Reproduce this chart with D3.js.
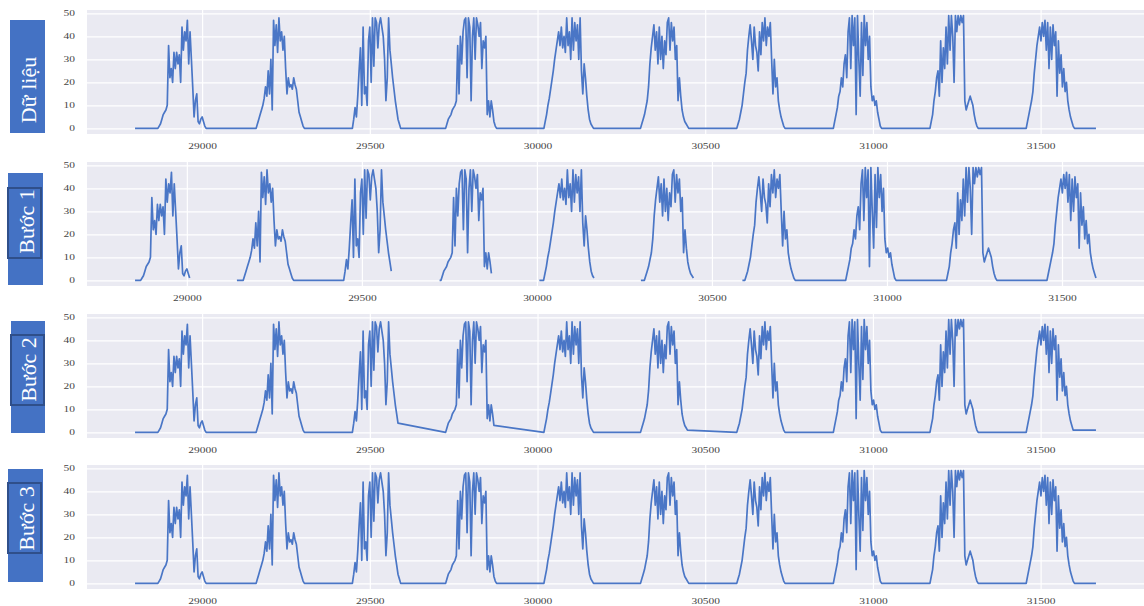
<!DOCTYPE html>
<html>
<head>
<meta charset="utf-8">
<title>Dữ liệu / Bước 1-3</title>
<script src="https://cdn.jsdelivr.net/npm/d3@7/dist/d3.min.js"></script>
<style>
  body { margin: 0; background: #fff; }
  .tick text { font-family: "Liberation Serif", "Times New Roman", serif; }
</style>
</head>
<body>
<script>

// ---- data ----
var panelLabels = ["Dữ liệu", "Bước 1", "Bước 2", "Bước 3"];
var xTicks = [29000, 29500, 30000, 30500, 31000, 31500];
var yTicks = [0, 10, 20, 30, 40, 50];

var seriesStart = 28800;   // first sample (night, 0)
var seriesEnd = 31665;     // last sample (night, 0)
var sampleStep = 4;        // spacing of the values below

// start of each daylight run
var dayStart = [28868, 29161, 29448, 29726, 30019, 30307, 30594, 30882, 31170, 31457];

// daylight values, one array per day
var dayProfiles = [
  [0,1,2,4,6,7,8,10,36,22,26,20,33,26,33,28,32,20,44,34,42,38,47,28,42,30,18,5,12,15,3,2,4,5,3,1,0],
  [0,2,4,6,8,10,13,18,14,25,15,30,8,47,36,45,33,48,38,42,34,40,26,15,22,18,19,17,22,19,17,12,7,5,3,1,0],
  [0,4,9,5,14,25,35,10,44,15,18,10,38,44,20,48,27,48,46,35,45,48,44,40,30,12,22,48,34,28,22,17,12,8,4,2,0],
  [0,2,4,5,6,8,9,10,12,36,15,40,28,42,47,48,22,48,44,12,40,48,30,48,45,40,46,26,38,35,40,6,12,5,12,8,3,1,0],
  [0,3,6,10,13,17,21,25,30,34,38,42,36,44,35,40,33,48,36,42,30,48,34,46,38,45,30,48,25,15,28,22,14,8,4,2,1,0],
  [0,2,4,6,9,12,18,28,35,40,45,34,42,28,44,30,40,26,38,32,46,48,34,46,38,44,30,36,12,22,14,8,5,3,2,1,0],
  [0,2,4,7,10,15,20,24,34,40,45,38,30,44,36,33,25,42,32,46,38,48,36,44,40,46,30,15,30,18,22,12,8,5,3,1,0],
  [0,3,6,9,14,16,22,18,28,32,22,42,48,26,49,36,48,6,49,30,14,46,23,49,36,46,30,40,18,12,14,10,12,7,4,1,0],
  [0,3,6,12,16,22,25,14,38,20,35,26,44,28,49,34,49,40,20,49,42,49,45,49,46,49,12,8,10,12,14,12,10,6,3,1,0],
  [0,3,6,9,12,16,24,30,36,40,44,38,46,40,47,34,46,26,44,30,45,36,42,14,38,24,32,18,26,16,20,12,8,5,3,1,0]
];

// Bước 1: x ranges that are kept (the rest is dropped -> gaps)
var step1Windows = [[28852, 29008], [29143, 29586], [29722, 29872], [30007, 30164], [30297, 30448], [30587, 31598]];
// Bước 2: gaps refilled with the night zeros; the other gaps are bridged straight
var step2ZeroGaps = [0, 3];
var step2TailValue = 1;

// ---- build the series ----
var raw = [[seriesStart, 0]];
dayProfiles.forEach(function(vals, d) {
  vals.forEach(function(v, i) { raw.push([dayStart[d] + i * sampleStep, v]); });
});
raw.push([seriesEnd, 0]);

var step1 = step1Windows.map(function(w) {
  var pts = raw.filter(function(p) { return p[0] >= w[0] && p[0] <= w[1]; });
  if (pts[0][0] > w[0]) pts.unshift([w[0], 0]);
  return pts;
});

var lastEnd = step1Windows[step1Windows.length - 1][1];
var step2 = raw.filter(function(p) {
  if (p[0] > lastEnd) return false;
  for (var g = 0; g < step1Windows.length - 1; g++) {
    if (step2ZeroGaps.indexOf(g) >= 0) continue;
    if (p[0] > step1Windows[g][1] && p[0] < step1Windows[g + 1][0]) return false;
  }
  return true;
});
step2.push([seriesEnd, step2TailValue]);

var panelSeries = [[raw], step1, [step2], [raw]];

// ---- layout ----
var W = 1144, H = 606;
var plotLeft = 87, plotRight = 1144, plotH = 124;
var panelTops = [10, 162, 314, 465];
var lineColor = "#4a76c6";

var svg = d3.select("body").append("svg")
    .attr("width", W)
    .attr("height", H);

var yMax = d3.max(raw, function(d) { return d[1]; });

function drawPanel(i) {
  var segs = panelSeries[i];
  var w = plotRight - plotLeft;
  var all = [].concat.apply([], segs);
  var ext = d3.extent(all, function(d) { return d[0]; });
  var pad = (ext[1] - ext[0]) * 0.05;

  var x = d3.scaleLinear().domain([ext[0] - pad, ext[1] + pad]).range([0, w]);
  var y = d3.scaleLinear().domain([-yMax * 0.05, yMax * 1.05]).range([plotH, 0]);

  var g = svg.append("g")
      .attr("transform", "translate(" + plotLeft + "," + panelTops[i] + ")");

  g.append("rect")
      .attr("width", w)
      .attr("height", plotH)
      .attr("fill", "#eaeaf2");

  var xa = g.append("g")
      .attr("transform", "translate(0," + plotH + ")")
      .call(d3.axisBottom(x).tickValues(xTicks).tickSize(-plotH).tickPadding(9).tickFormat(d3.format("d")));

  var ya = g.append("g")
      .call(d3.axisLeft(y).tickValues(yTicks).tickSize(-w).tickPadding(12));

  [xa, ya].forEach(function(a) {
    a.select(".domain").remove();
    a.selectAll("line").attr("stroke", "#ffffff").attr("stroke-width", 1.2);
    a.selectAll("text")
        .attr("fill", "#444")
        .attr("font-size", 8)
        .attr("textLength", function(d) { return String(d).length * 5.7; })
        .attr("lengthAdjust", "spacingAndGlyphs");
  });

  var line = d3.line()
      .x(function(d) { return x(d[0]); })
      .y(function(d) { return y(d[1]); });

  segs.forEach(function(s) {
    g.append("path")
        .datum(s)
        .attr("d", line)
        .attr("fill", "none")
        .attr("stroke", lineColor)
        .attr("stroke-width", 1.7)
        .attr("stroke-linejoin", "round");
  });
}

for (var p = 0; p < 4; p++) drawPanel(p);

// ---- side labels ----
var boxes = [
  { outer: [10, 20, 35, 113], inner: null,              tx: 35.5, ty: 90 },
  { outer: [8, 173, 35, 112], inner: [7, 187, 35, 72],  tx: 33.5, ty: 221.5 },
  { outer: [11, 321, 34, 112], inner: [10, 334, 35, 72], tx: 36,   ty: 369.5 },
  { outer: [8, 469, 35, 113], inner: [7, 482, 35, 72],  tx: 33.5, ty: 518.5 }
];

boxes.forEach(function(b, i) {
  svg.append("rect")
      .attr("x", b.outer[0]).attr("y", b.outer[1])
      .attr("width", b.outer[2]).attr("height", b.outer[3])
      .attr("fill", "#4472c4");
  if (b.inner) {
    svg.append("rect")
        .attr("x", b.inner[0] + 1).attr("y", b.inner[1] + 1)
        .attr("width", b.inner[2] - 2).attr("height", b.inner[3] - 2)
        .attr("fill", "#4472c4")
        .attr("stroke", "#2f4f8a")
        .attr("stroke-width", 2);
  }
  svg.append("text")
      .attr("transform", "translate(" + b.tx + "," + b.ty + ") rotate(-90)")
      .attr("text-anchor", "middle")
      .attr("fill", "#ffffff")
      .attr("font-family", "'Liberation Serif', 'Times New Roman', serif")
      .attr("font-size", 22)
      .text(panelLabels[i]);
});

</script>
</body>
</html>
